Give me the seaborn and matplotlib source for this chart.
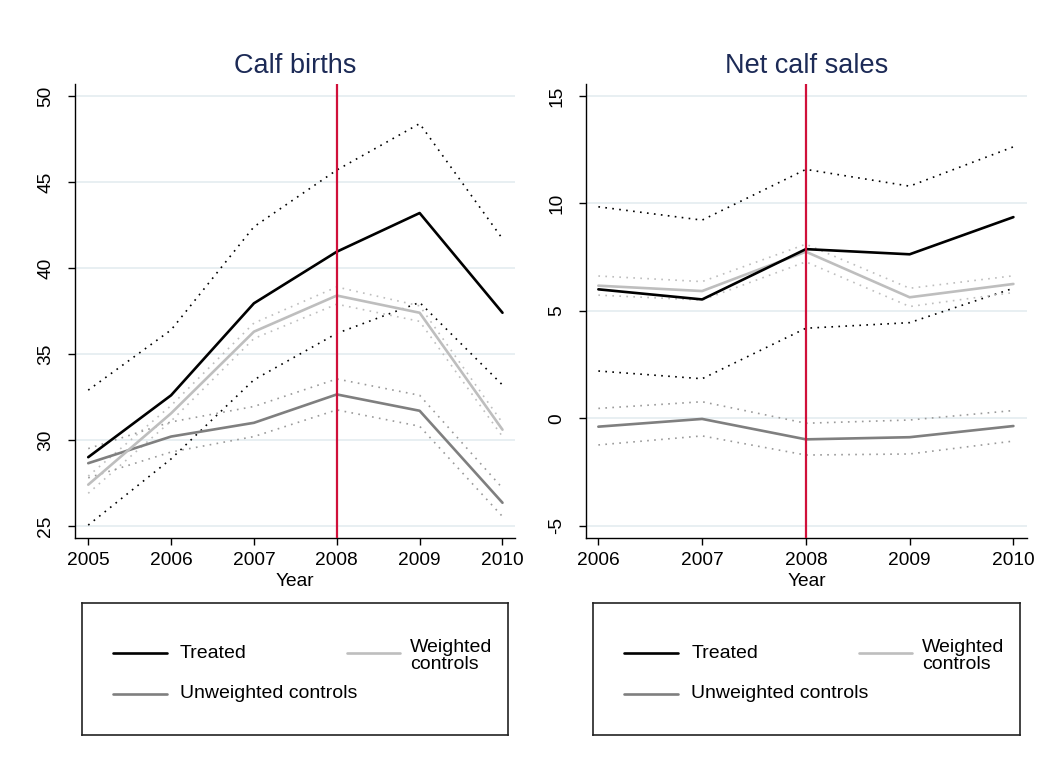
import numpy as np
import pandas as pd
import seaborn as sns
import matplotlib
matplotlib.use('Agg')
import matplotlib.pyplot as plt

# Calf births, 2005-2010
years_births = [2005, 2006, 2007, 2008, 2009, 2010]
births_treated = [29.0, 32.6, 37.95, 40.95, 43.2, 37.4]
births_treated_hi = [32.9, 36.4, 42.4, 45.7, 48.4, 41.7]
births_treated_lo = [25.05, 28.9, 33.5, 36.2, 38.0, 33.2]
births_weighted = [27.4, 31.55, 36.3, 38.4, 37.4, 30.6]
births_weighted_hi = [27.9, 32.0, 36.8, 38.9, 37.8, 31.0]
births_weighted_lo = [26.9, 31.1, 35.9, 37.9, 36.9, 30.2]
births_unweighted = [28.65, 30.2, 31.0, 32.65, 31.7, 26.35]
births_unweighted_hi = [29.5, 31.05, 31.95, 33.55, 32.6, 27.2]
births_unweighted_lo = [27.8, 29.3, 30.2, 31.75, 30.8, 25.55]

# Net calf sales, 2006-2010
years_sales = [2006, 2007, 2008, 2009, 2010]
sales_treated = [6.0, 5.53, 7.87, 7.63, 9.36]
sales_treated_hi = [9.84, 9.22, 11.58, 10.8, 12.63]
sales_treated_lo = [2.2, 1.84, 4.19, 4.45, 6.05]
sales_weighted = [6.17, 5.92, 7.75, 5.63, 6.25]
sales_weighted_hi = [6.62, 6.36, 8.1, 6.05, 6.63]
sales_weighted_lo = [5.73, 5.5, 7.28, 5.2, 5.85]
sales_unweighted = [-0.39, -0.03, -0.98, -0.88, -0.36]
sales_unweighted_hi = [0.46, 0.77, -0.23, -0.08, 0.36]
sales_unweighted_lo = [-1.24, -0.82, -1.71, -1.66, -1.06]

sns.set_style('white')
plt.rcParams['font.family'] = ['Liberation Sans', 'DejaVu Sans']
plt.rcParams['text.color'] = 'black'
plt.rcParams['axes.labelcolor'] = 'black'
plt.rcParams['xtick.color'] = 'black'
plt.rcParams['ytick.color'] = 'black'

c_treat = '#000000'
c_weight = '#bebebe'
c_unweight = '#7f7f7f'
c_red = '#d0103a'
c_grid = '#e6eef1'
c_title = '#1c2a56'
dot = (0, (1, 3.2))

fig = plt.figure(figsize=(10.5, 7.72), dpi=100)
ax1 = fig.add_axes([0.0714, 0.3031, 0.419, 0.588])
ax2 = fig.add_axes([0.558, 0.3031, 0.42, 0.588])


def draw_panel(ax, years, series, title, yticks, ylim, xlim):
    for ys, color, ls, lw in series:
        sns.lineplot(x=years, y=ys, ax=ax, color=color, linestyle=ls,
                     linewidth=lw, errorbar=None)
    ax.axvline(2008, color=c_red, linewidth=1.6, zorder=5)
    ax.set_xlim(xlim)
    ax.set_ylim(ylim)
    ax.set_xticks(years)
    ax.set_yticks(yticks)
    ax.set_yticklabels([str(t) for t in yticks], rotation=90, va='center')
    for t in yticks:
        ax.axhline(t, color=c_grid, linewidth=1.3, zorder=0)
    ax.tick_params(axis='both', labelsize=13.8, length=5, width=1,
                   color='black', labelcolor='black', direction='out',
                   left=True, bottom=True)
    ax.tick_params(axis='y', pad=10)
    ax.tick_params(axis='x', pad=5)
    for s in ['top', 'right']:
        ax.spines[s].set_visible(False)
    for s in ['left', 'bottom']:
        ax.spines[s].set_color('black')
        ax.spines[s].set_linewidth(1.0)
    ax.set_xlabel('Year', fontsize=13.8, labelpad=3, color='black')
    ax.set_ylabel('')
    ax.set_title(title, fontsize=19.5, color=c_title, pad=8)


draw_panel(ax1, years_births, [
    (births_treated_hi, c_treat, dot, 1.2),
    (births_treated_lo, c_treat, dot, 1.2),
    (births_weighted_hi, c_weight, dot, 1.2),
    (births_weighted_lo, c_weight, dot, 1.2),
    (births_unweighted_hi, '#9a9a9a', dot, 1.2),
    (births_unweighted_lo, '#9a9a9a', dot, 1.2),
    (births_unweighted, c_unweight, '-', 1.9),
    (births_weighted, c_weight, '-', 1.9),
    (births_treated, c_treat, '-', 1.9),
], 'Calf births', [25, 30, 35, 40, 45, 50], (24.3, 50.7), (2004.84, 2010.15))

draw_panel(ax2, years_sales, [
    (sales_treated_hi, c_treat, dot, 1.2),
    (sales_treated_lo, c_treat, dot, 1.2),
    (sales_weighted_hi, c_weight, dot, 1.2),
    (sales_weighted_lo, c_weight, dot, 1.2),
    (sales_unweighted_hi, '#9a9a9a', dot, 1.2),
    (sales_unweighted_lo, '#9a9a9a', dot, 1.2),
    (sales_unweighted, c_unweight, '-', 1.9),
    (sales_weighted, c_weight, '-', 1.9),
    (sales_treated, c_treat, '-', 1.9),
], 'Net calf sales', [-5, 0, 5, 10, 15], (-5.57, 15.55), (2005.88, 2010.13))


# legend boxes under each panel
def draw_legend(rect):
    lg = fig.add_axes(rect)
    lg.set_xlim(0, 1)
    lg.set_ylim(0, 1)
    lg.set_xticks([])
    lg.set_yticks([])
    for s in lg.spines.values():
        s.set_visible(True)
        s.set_color('#222222')
        s.set_linewidth(1.2)
    lg.plot([0.072, 0.199], [0.621, 0.621], color=c_treat, linewidth=1.9)
    lg.text(0.230, 0.621, 'Treated', fontsize=14, va='center')
    lg.plot([0.072, 0.199], [0.311, 0.311], color=c_unweight, linewidth=1.9)
    lg.text(0.230, 0.311, 'Unweighted controls', fontsize=14, va='center')
    lg.plot([0.622, 0.746], [0.621, 0.621], color=c_weight, linewidth=1.9)
    lg.text(0.770, 0.600, 'Weighted\ncontrols', fontsize=14, va='center',
            linespacing=1.0)


draw_legend([0.0781, 0.0479, 0.4057, 0.171])
draw_legend([0.5648, 0.0479, 0.4067, 0.171])

fig.savefig('out.png', dpi=100, facecolor='white')
